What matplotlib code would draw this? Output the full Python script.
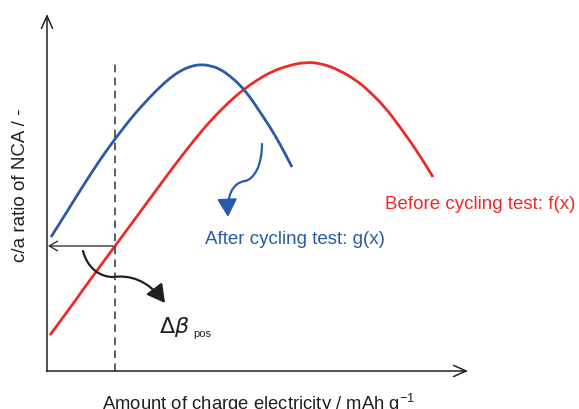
import matplotlib
matplotlib.use("Agg")
import matplotlib.pyplot as plt
from matplotlib.patches import FancyArrowPatch, PathPatch
from matplotlib.path import Path

plt.rcParams['font.family'] = ['Liberation Sans', 'DejaVu Sans']

# ---- data (schematic units: origin at the axes corner) ----
before_x = [3, 23, 43, 68, 88, 110, 130, 148, 165, 183, 196, 210, 225, 240, 258, 275, 293, 308, 320, 338, 353, 370, 386]
before_y = [36, 63, 91, 125, 152, 182, 209, 232, 252, 270, 281, 291, 299.5, 305, 309, 307.5, 300.5, 291.5, 282, 264, 244, 220, 194]
after_x = [4, 16, 26, 36, 46, 56, 68, 78, 88, 103, 113, 123, 133, 143, 153, 163, 173, 183, 193, 203, 213, 223, 233, 245]
after_y = [134, 153, 169, 185, 200.5, 215.5, 232, 245, 257.5, 274, 284, 293, 300, 304.5, 306.5, 305.5, 302, 295, 286, 274, 259, 244, 227, 204]
marker_x = 68          # dashed vertical line position
marker_y = 125         # level of the horizontal arrow
dashed_top = 309

RED = '#ee2a26'
BLUE = '#2a5ba8'
BLACK = '#231f20'

W, H = 579, 410
fig = plt.figure(figsize=(W / 100, H / 100), dpi=100)
ax = fig.add_axes([47 / W, 38 / H, 421 / W, 357 / H])
ax.set_xlim(0, 421)
ax.set_ylim(0, 357)
ax.axis('off')


def smooth_path(xs, ys):
    """Quadratic B-spline style path through midpoints of the given points."""
    pts = list(zip(xs, ys))
    verts = [pts[0]]
    codes = [Path.MOVETO]
    mid = lambda a, b: ((a[0] + b[0]) / 2, (a[1] + b[1]) / 2)
    verts.append(mid(pts[0], pts[1]))
    codes.append(Path.LINETO)
    for i in range(1, len(pts) - 1):
        verts += [pts[i], mid(pts[i], pts[i + 1])]
        codes += [Path.CURVE3, Path.CURVE3]
    verts.append(pts[-1])
    codes.append(Path.LINETO)
    return Path(verts, codes)


# axes with arrows
ax.annotate('', xy=(0, 357), xytext=(0, -0.5), xycoords='data',
            arrowprops=dict(arrowstyle='->,head_length=0.9,head_width=0.4', lw=1.1, color=BLACK,
                            shrinkA=0, shrinkB=0), annotation_clip=False)
ax.annotate('', xy=(421, 0), xytext=(-0.5, 0), xycoords='data',
            arrowprops=dict(arrowstyle='->,head_length=0.9,head_width=0.4', lw=1.1, color=BLACK,
                            shrinkA=0, shrinkB=0), annotation_clip=False)

# curves
ax.add_patch(PathPatch(smooth_path(before_x, before_y), fill=False, edgecolor=RED, lw=2.0,
                       capstyle='butt', clip_on=False))
ax.add_patch(PathPatch(smooth_path(after_x, after_y), fill=False, edgecolor=BLUE, lw=2.0,
                       capstyle='butt', clip_on=False))

# dashed marker line
ax.plot([marker_x, marker_x], [0, dashed_top], color='#333333', lw=1.1, dashes=(5, 3.5))

# horizontal arrow to y axis
ax.annotate('', xy=(1, marker_y), xytext=(marker_x - 2, marker_y),
            arrowprops=dict(arrowstyle='->,head_length=0.6,head_width=0.35', lw=0.9, color=BLACK,
                            shrinkA=0, shrinkB=0))

# curved black arrow (delta beta)
codes = [Path.MOVETO, Path.CURVE4, Path.CURVE4, Path.CURVE4,
         Path.CURVE4, Path.CURVE4, Path.CURVE4]
verts = [(36, 120), (40, 104), (52, 94), (66, 94),
         (82, 96), (100, 92), (118, 68)]
arr = FancyArrowPatch(path=Path(verts, codes), arrowstyle='-|>,head_length=0.9,head_width=0.5',
                      mutation_scale=12, lw=1.6, color=BLACK, transform=ax.transData)
ax.add_patch(arr)

# curved blue arrow
verts2 = [(215, 227), (215, 205), (207, 192), (198, 190),
          (185, 188), (180, 175), (181, 154)]
arr2 = FancyArrowPatch(path=Path(verts2, codes), arrowstyle='-|>,head_length=0.9,head_width=0.5',
                       mutation_scale=12, lw=1.6, color=BLUE, transform=ax.transData)
ax.add_patch(arr2)

# texts (figure pixel positions)
def fx(px):
    return px / W


def fy(py):
    return 1 - py / H


fig.text(fx(385), fy(205), 'Before cycling test: f(x)', color=RED, fontsize=13.5, va='center', ha='left')
fig.text(fx(205), fy(240), 'After cycling test: g(x)', color=BLUE, fontsize=13.5, va='center', ha='left')
fig.text(fx(159), fy(327), r'$\Delta\beta$', color=BLACK, fontsize=16, va='center', ha='left',
         math_fontfamily='dejavusans')
fig.text(fx(193), fy(334), 'pos', color=BLACK, fontsize=8, va='center', ha='left')
fig.text(fx(21), fy(185), 'c/a ratio of NCA / -', color=BLACK, fontsize=13.5, rotation=90,
         va='center', ha='center')
fig.text(fx(259), fy(404), r'Amount of charge electricity / mAh g$^{\mathregular{-1}}$', color=BLACK,
         fontsize=13.3, va='center', ha='center')

fig.savefig('out.png', dpi=100)
